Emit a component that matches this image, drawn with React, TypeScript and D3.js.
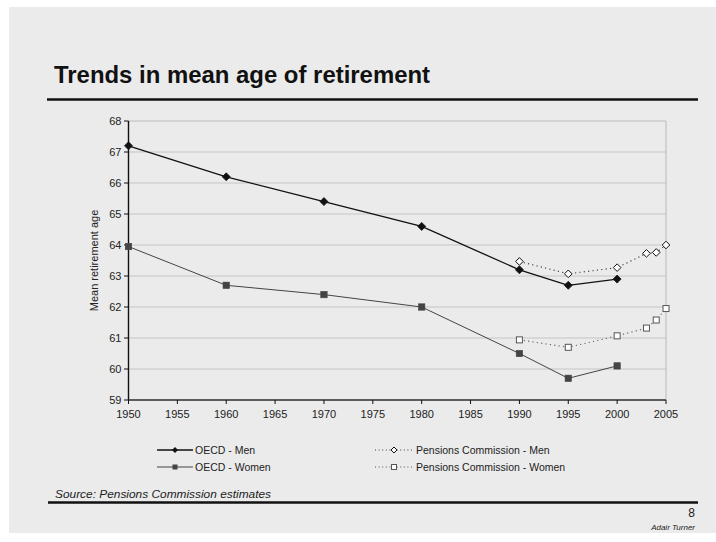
import React from "react";
import * as d3 from "d3";

// Observed mean retirement age (OECD) by year
const oecdYears = [1950, 1960, 1970, 1980, 1990, 1995, 2000];
const oecdMen = [67.2, 66.2, 65.4, 64.6, 63.2, 62.7, 62.9];
const oecdWomen = [63.95, 62.7, 62.4, 62.0, 60.5, 59.7, 60.1];

// Pensions Commission estimates
const pcYears = [1990, 1995, 2000, 2003, 2004, 2005];
const pcMen = [63.47, 63.07, 63.27, 63.73, 63.76, 64.0];
const pcWomen = [60.94, 60.7, 61.07, 61.32, 61.58, 61.95];

// Axis ticks
const xTickValues = [1950, 1955, 1960, 1965, 1970, 1975, 1980, 1985, 1990, 1995, 2000, 2005];
const yTickValues = [59, 60, 61, 62, 63, 64, 65, 66, 67, 68];

const FONT = "'Liberation Sans', Arial, Helvetica, sans-serif";

const W = 716;
const H = 542;
const plot = { left: 128.5, right: 666, top: 121, bottom: 400 };

const x = d3.scaleLinear().domain([1950, 2005]).range([plot.left, plot.right]);
const y = d3.scaleLinear().domain([59, 68]).range([plot.bottom, plot.top]);

type Pt = [number, number];
const zip = (xs: number[], ys: number[]): Pt[] => xs.map((v, i) => [v, ys[i]]);

const line = d3
  .line<Pt>()
  .x((d) => x(d[0]))
  .y((d) => y(d[1]));

const diamondPath = (s: number) => `M0,${-s}L${s},0L0,${s}L${-s},0Z`;

function Diamond({ cx, cy, filled }: { cx: number; cy: number; filled: boolean }) {
  return (
    <path
      d={diamondPath(filled ? 4 : 3.8)}
      transform={`translate(${cx},${cy})`}
      fill={filled ? "#111" : "#fff"}
      stroke="#111"
      strokeWidth={filled ? 0.8 : 1}
    />
  );
}

function Square({ cx, cy, filled }: { cx: number; cy: number; filled: boolean }) {
  const s = filled ? 6.4 : 6;
  return (
    <rect
      x={cx - s / 2}
      y={cy - s / 2}
      width={s}
      height={s}
      fill={filled ? "#444" : "#fff"}
      stroke={filled ? "#444" : "#555"}
      strokeWidth={filled ? 0.6 : 1}
    />
  );
}

export default function App() {
  const menPts = zip(oecdYears, oecdMen);
  const womenPts = zip(oecdYears, oecdWomen);
  const pcMenPts = zip(pcYears, pcMen);
  const pcWomenPts = zip(pcYears, pcWomen);

  return (
    <svg
      width={W}
      height={H}
      style={{ position: "absolute", left: 0, top: 0, display: "block" }}
      fontFamily={FONT}
    >
      <rect x={0} y={0} width={W} height={H} fill="#fff" />
      <rect x={9} y={7} width={W - 9} height={526} fill="#ebebeb" />

      {/* Title and rule */}
      <text
        x={54}
        y={83}
        fontSize={24}
        fontWeight="bold"
        fill="#111"
        textLength={376}
        lengthAdjust="spacingAndGlyphs"
      >
        Trends in mean age of retirement
      </text>
      <line x1={47} x2={698} y1={99.5} y2={99.5} stroke="#111" strokeWidth={2.6} />

      {/* Grid */}
      {yTickValues.map((v) => (
        <line
          key={`g${v}`}
          x1={plot.left}
          x2={plot.right}
          y1={y(v)}
          y2={y(v)}
          stroke={v === 68 ? "#bdbdbd" : "#c6c6c6"}
          strokeWidth={1.1}
        />
      ))}
      <line x1={plot.right} x2={plot.right} y1={plot.top} y2={plot.bottom} stroke="#bdbdbd" strokeWidth={1.1} />

      {/* Y axis */}
      <line x1={plot.left} x2={plot.left} y1={plot.top} y2={plot.bottom} stroke="#111" strokeWidth={1.4} />
      {yTickValues.map((v) => (
        <g key={`y${v}`}>
          <line x1={plot.left - 4.5} x2={plot.left} y1={y(v)} y2={y(v)} stroke="#111" strokeWidth={1} />
          <text x={plot.left - 7} y={y(v) + 4} fontSize={11} textAnchor="end" fill="#222">
            {v}
          </text>
        </g>
      ))}
      <text
        transform={`translate(${98},${(plot.top + plot.bottom) / 2}) rotate(-90)`}
        fontSize={11}
        textAnchor="middle"
        fill="#222"
      >
        Mean retirement age
      </text>

      {/* X axis */}
      <line x1={plot.left} x2={plot.right} y1={plot.bottom} y2={plot.bottom} stroke="#333" strokeWidth={1.6} />
      {xTickValues.map((v) => (
        <g key={`x${v}`}>
          <line x1={x(v)} x2={x(v)} y1={plot.bottom} y2={plot.bottom + 4} stroke="#111" strokeWidth={1} />
          <text x={x(v)} y={plot.bottom + 18} fontSize={11} textAnchor="middle" fill="#222">
            {v}
          </text>
        </g>
      ))}

      {/* Series lines */}
      <path d={line(womenPts) ?? ""} fill="none" stroke="#444" strokeWidth={1} />
      <path d={line(menPts) ?? ""} fill="none" stroke="#111" strokeWidth={1.3} />
      <path d={line(pcWomenPts) ?? ""} fill="none" stroke="#666" strokeWidth={1.2} strokeDasharray="1.2,3.2" />
      <path d={line(pcMenPts) ?? ""} fill="none" stroke="#444" strokeWidth={1.2} strokeDasharray="1.2,3.2" />

      {/* Markers */}
      {womenPts.map((d, i) => (
        <Square key={`ws${i}`} cx={x(d[0])} cy={y(d[1])} filled />
      ))}
      {menPts.map((d, i) => (
        <Diamond key={`md${i}`} cx={x(d[0])} cy={y(d[1])} filled />
      ))}
      {pcWomenPts.map((d, i) => (
        <Square key={`pws${i}`} cx={x(d[0])} cy={y(d[1])} filled={false} />
      ))}
      {pcMenPts.map((d, i) => (
        <Diamond key={`pmd${i}`} cx={x(d[0])} cy={y(d[1])} filled={false} />
      ))}

      {/* Legend */}
      <g fontSize={10.5} fill="#222">
        <line x1={157} x2={193} y1={450} y2={450} stroke="#111" strokeWidth={1.3} />
        <path d={diamondPath(3)} transform="translate(175,450)" fill="#111" />
        <text x={195} y={454}>OECD - Men</text>

        <line x1={157} x2={193} y1={467} y2={467} stroke="#444" strokeWidth={1.1} />
        <rect x={172.5} y={464.5} width={5} height={5} fill="#444" />
        <text x={195} y={471}>OECD - Women</text>

        <line x1={375} x2={413} y1={450} y2={450} stroke="#444" strokeWidth={1.1} strokeDasharray="1,2.6" />
        <path d={diamondPath(3)} transform="translate(394,450)" fill="#fff" stroke="#111" strokeWidth={1} />
        <text x={416} y={454}>Pensions Commission - Men</text>

        <line x1={375} x2={413} y1={467} y2={467} stroke="#555" strokeWidth={1.1} strokeDasharray="1,2.6" />
        <rect x={391.5} y={464.5} width={5} height={5} fill="#fff" stroke="#555" strokeWidth={1} />
        <text x={416} y={471}>Pensions Commission - Women</text>
      </g>

      {/* Footer */}
      <text
        x={55}
        y={498}
        fontSize={11}
        fontStyle="italic"
        fill="#222"
        textLength={216}
        lengthAdjust="spacingAndGlyphs"
      >
        Source: Pensions Commission estimates
      </text>
      <line x1={48} x2={698} y1={502.5} y2={502.5} stroke="#111" strokeWidth={2.6} />
      <text x={695} y={517} fontSize={12} textAnchor="end" fill="#222">
        8
      </text>
      <text x={695} y={530} fontSize={8} fontStyle="italic" textAnchor="end" fill="#222">
        Adair Turner
      </text>
    </svg>
  );
}
